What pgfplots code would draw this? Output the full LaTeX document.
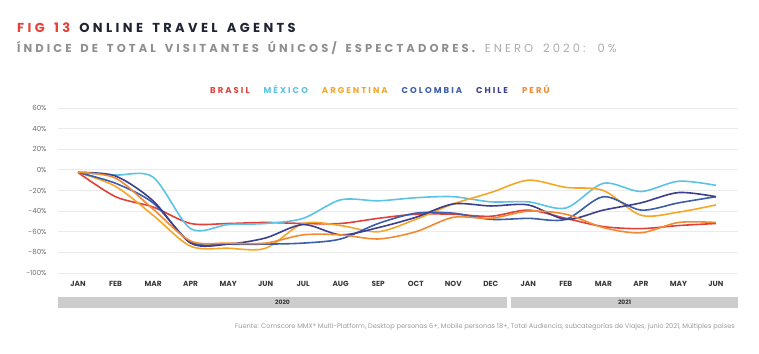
\documentclass[border=0pt]{standalone}
\usepackage{fontspec}
\setmainfont{Poppins}
\newfontfamily\popt[LetterSpace=26,WordSpace=1.5]{Poppins}
\newfontfamily\pops[LetterSpace=27,WordSpace=1.6]{Poppins}
\newfontfamily\popl[LetterSpace=24]{Poppins}
\usepackage{pgfplots}
\pgfplotsset{compat=1.18}
\definecolor{cBR}{HTML}{E0413A}
\definecolor{cMX}{HTML}{5CC3E4}
\definecolor{cAR}{HTML}{F6A626}
\definecolor{cCO}{HTML}{3C5DAA}
\definecolor{cCL}{HTML}{3B3F8E}
\definecolor{cPE}{HTML}{F28A33}
\definecolor{gridg}{HTML}{EBEBEB}
\definecolor{ylab}{HTML}{6B6B6B}
\definecolor{xlab}{HTML}{3A3A3A}
\definecolor{band}{HTML}{CCCCCC}
\definecolor{srcg}{HTML}{9B9B9B}
\definecolor{tred}{HTML}{E5403A}
\definecolor{tdark}{HTML}{1E2432}
\definecolor{sub1}{HTML}{8F8F8F}
\definecolor{sub2}{HTML}{ABABAB}
\begin{document}
\begin{tikzpicture}[x=1pt,y=1pt]
\path[use as bounding box] (0,0) rectangle (759,353);
\begin{axis}[
  at={(58pt,80pt)}, anchor=south west,
  scale only axis, width=680pt, height=165pt,
  xmin=-0.533, xmax=17.587, ymin=-100, ymax=60,
  axis line style={draw=none},
  major tick length=0pt,
  ymajorgrids, grid style={color=gridg, line width=0.9pt},
  ytick={-100,-80,-60,-40,-20,0,20,40,60},
  yticklabels={-100\%,-80\%,-60\%,-40\%,-20\%,0\%,20\%,40\%,60\%},
  yticklabel style={font=\fontsize{7}{8}\selectfont, text=ylab, xshift=-8pt},
  xtick={0,...,17},
  xticklabels={JAN,FEB,MAR,APR,MAY,JUN,JUL,AUG,SEP,OCT,NOV,DEC,JAN,FEB,MAR,APR,MAY,JUN},
  xticklabel style={font=\bfseries\fontsize{7.4}{8}\selectfont, text=xlab, yshift=-5pt},
  clip=false,
  every axis plot/.append style={line width=1.6pt, smooth, tension=0.5, no markers},
]
\addplot[cBR] coordinates {(0,-2.5)(1,-26)(2,-36)(3,-52)(4,-52)(5,-51)(6,-52)(7,-52)(8,-47)(9,-43)(10,-43)(11,-45)(12,-39)(13,-47)(14,-55)(15,-57)(16,-54)(17,-52)};
\addplot[cMX] coordinates {(0,-2.5)(1,-5)(2,-7)(3,-57)(4,-53)(5,-52)(6,-47)(7,-29)(8,-30)(9,-27)(10,-26)(11,-31)(12,-31)(13,-37)(14,-13)(15,-21)(16,-11)(17,-15)};
\addplot[cAR] coordinates {(0,-2.5)(1,-16)(2,-44)(3,-74)(4,-76)(5,-76)(6,-52)(7,-54)(8,-60)(9,-48)(10,-33)(11,-22)(12,-10)(13,-17)(14,-20)(15,-44)(16,-41)(17,-34)};
\addplot[cCO] coordinates {(0,-2.5)(1,-13)(2,-32)(3,-70)(4,-72)(5,-72)(6,-71)(7,-67)(8,-52)(9,-42)(10,-42)(11,-48)(12,-47)(13,-48)(14,-26)(15,-39)(16,-32)(17,-26)};
\addplot[cCL] coordinates {(0,-2.5)(1,-6)(2,-30)(3,-71)(4,-72)(5,-66)(6,-53)(7,-63)(8,-56)(9,-46)(10,-33)(11,-35)(12,-34)(13,-48)(14,-39)(15,-32)(16,-22)(17,-26)};
\addplot[cPE] coordinates {(0,-2.5)(1,-8)(2,-38)(3,-69)(4,-71)(5,-71)(6,-63)(7,-63)(8,-67)(9,-60)(10,-46)(11,-47)(12,-40)(13,-43)(14,-56)(15,-61)(16,-51)(17,-51)};
\end{axis}
% title
\node[anchor=base west, inner sep=0pt] at (17,320.7) {\popt\bfseries\fontsize{13}{15}\selectfont\textcolor{tred}{FIG 13} \textcolor{tdark}{ONLINE TRAVEL AGENTS}};
\node[anchor=base west, inner sep=0pt] at (17,300.3) {\pops\fontsize{11.5}{13}\selectfont\textcolor{sub1}{\bfseries ÍNDICE DE TOTAL VISITANTES ÚNICOS/ ESPECTADORES.} \textcolor{sub2}{ENERO 2020: 0\%}};
% legend
\node[anchor=base west, inner sep=0pt] at (210,259.7) {\popl\bfseries\fontsize{8.5}{9}\selectfont\textcolor{cBR}{BRASIL}\hspace{14pt}\textcolor{cMX}{MÉXICO}\hspace{14pt}\textcolor{cAR}{ARGENTINA}\hspace{14pt}\textcolor{cCO}{COLOMBIA}\hspace{14pt}\textcolor{cCL}{CHILE}\hspace{14pt}\textcolor{cPE}{PERÚ}};
% year bands
\fill[band] (58,45) rectangle (507,56);
\fill[band] (511,45) rectangle (738,56);
\node[font=\bfseries\fontsize{6}{6}\selectfont, text=xlab] at (282.5,50.5) {2020};
\node[font=\bfseries\fontsize{6}{6}\selectfont, text=xlab] at (624.5,50.5) {2021};
% source
\node[anchor=base east, inner sep=0pt, font=\fontsize{6.6}{7}\selectfont, text=srcg] at (735,24.5) {Fuente: Comscore MMX® Multi-Platform, Desktop personas 6+, Mobile personas 18+, Total Audiencia, subcategorías de Viajes, junio 2021, Múltiples países};
\end{tikzpicture}
\end{document}
